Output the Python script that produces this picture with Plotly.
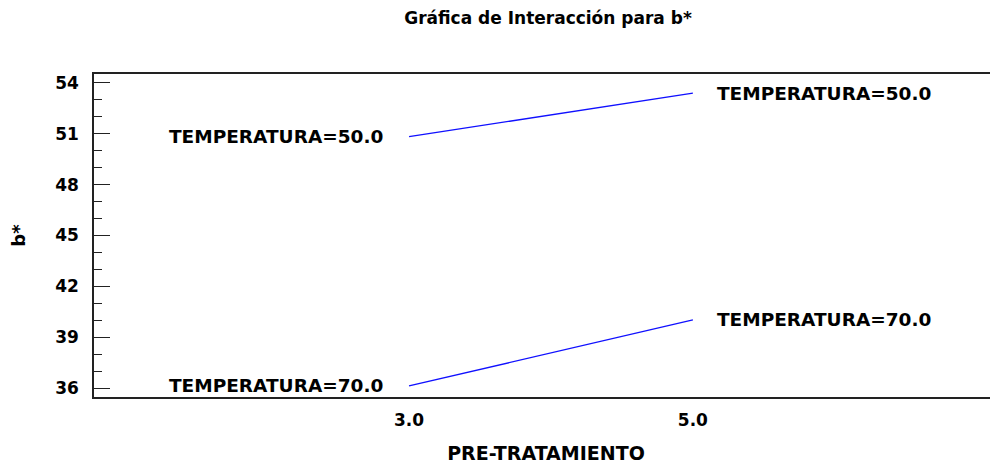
import plotly.graph_objects as go

# Medias de b* por nivel de PRE-TRATAMIENTO y TEMPERATURA
pre_tratamiento = [3.0, 5.0]
temperaturas = ["50.0", "70.0"]
b_temp50 = [50.82, 53.38]
b_temp70 = [36.14, 40.03]

x_ticks = [3.0, 5.0]
x_tick_labels = ["3.0", "5.0"]
y_ticks = [36, 39, 42, 45, 48, 51, 54]
y_tick_labels = ["36", "39", "42", "45", "48", "51", "54"]

FONT = "DejaVu Sans"
AXIS_COLOR = "#222222"

# la pagina deja 8px de margen, asi que la figura es un poco mas chica
W, H = 990, 456

fig = go.Figure()

series = [b_temp50, b_temp70]
for temp, vals in zip(temperaturas, series):
	fig.add_trace(go.Scatter(x=pre_tratamiento, y=vals, mode="lines",
		line=dict(color="#1010ff", width=1.3), name="TEMPERATURA=" + temp,
		showlegend=False))

	# etiqueta a la izquierda y a la derecha de cada linea
	fig.add_annotation(x=pre_tratamiento[0], y=vals[0], text="TEMPERATURA=" + temp,
		showarrow=False, xanchor="right", yanchor="middle", xshift=-24,
		font=dict(family=FONT, size=18.5, color="black", weight="bold"))
	fig.add_annotation(x=pre_tratamiento[-1], y=vals[-1], text="TEMPERATURA=" + temp,
		showarrow=False, xanchor="left", yanchor="middle", xshift=22,
		font=dict(family=FONT, size=18.5, color="black", weight="bold"))

# marcas cortas del eje derecho (solo las principales)
for v in y_ticks:
	fig.add_shape(type="line", xref="paper", yref="y", x0=1 - 5 / 904, x1=1, y0=v, y1=v,
		line=dict(color=AXIS_COLOR, width=1.3))

fig.update_layout(
	width=W, height=H,
	margin=dict(l=86, r=0, t=66, b=67),
	paper_bgcolor="white", plot_bgcolor="white",
	font=dict(family=FONT, color="black", weight="bold"),
	title=dict(text="Gráfica de Interacción para b*", x=540 / W, xanchor="center",
		xref="container", y=1 - 10 / H, yanchor="middle", yref="container",
		font=dict(family=FONT, size=17, color="black", weight="bold")),
)

fig.update_xaxes(range=[0.78, 7.15], tickvals=x_ticks, ticktext=x_tick_labels,
	showgrid=False, zeroline=False, showline=True, linecolor=AXIS_COLOR, linewidth=1.5,
	mirror=True, ticks="", ticklabelstandoff=7, automargin=False,
	tickfont=dict(family=FONT, size=17, color="black", weight="bold"),
	title=dict(text="PRE-TRATAMIENTO", standoff=19,
		font=dict(family=FONT, size=19, color="black", weight="bold")))

fig.update_yaxes(range=[35.49, 54.51], tickvals=y_ticks, ticktext=y_tick_labels,
	showgrid=False, zeroline=False, showline=True, linecolor=AXIS_COLOR, linewidth=1.5,
	mirror=False, ticks="inside", ticklen=16, tickwidth=1.3, tickcolor=AXIS_COLOR,
	ticklabelstandoff=10, automargin=False,
	minor=dict(tick0=36, dtick=1, ticks="inside", ticklen=8, tickwidth=1.3,
		tickcolor=AXIS_COLOR, showgrid=False),
	tickfont=dict(family=FONT, size=17, color="black", weight="bold"),
	title=dict(text="b*", standoff=30,
		font=dict(family=FONT, size=18, color="black", weight="bold")))

fig.write_html("out.html")
